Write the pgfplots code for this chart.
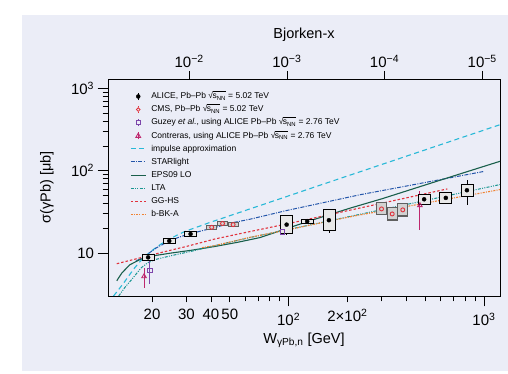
\documentclass[border=0pt]{standalone}
\usepackage{pgfplots}
\pgfplotsset{compat=1.18}
\usepackage{pgfplotstable}
\usepackage{fontspec}
\setmainfont{Liberation Sans}

\definecolor{panel}{RGB}{235,237,247}
\definecolor{cIA}{RGB}{40,185,215}
\definecolor{cSL}{RGB}{35,85,170}
\definecolor{cEPS}{RGB}{25,95,75}
\definecolor{cLTA}{RGB}{25,150,145}
\definecolor{cGG}{RGB}{225,50,60}
\definecolor{cBK}{RGB}{240,130,50}
\definecolor{cGuz}{RGB}{125,70,170}
\definecolor{cCon}{RGB}{190,40,110}

\def\ydec{82.3}
\pgfdeclareplotmark{sysboxA}{\pgfpathrectangle{\pgfpoint{-6pt}{-\boxh}}{\pgfpoint{12pt}{2*\boxh}}\pgfusepathqfillstroke}
\pgfdeclareplotmark{sysboxC}{\pgfpathrectangle{\pgfpoint{-5pt}{-\boxh}}{\pgfpoint{10pt}{2*\boxh}}\pgfusepathqfillstroke}

\pgfplotstableread{
W s stat sys
19.1 8.84 0.3 0.65
24.5 14.0 0.4 1.1
31.5 17.0 0.5 1.4
97.7 22.1 5.5 6.3
124.5 24.2 0.8 1.6
160.8 25.0 7.5 8.6
494 44.9 2.5 6.5
638 46.7 2.5 7.5
818 57.8 20 11
}\alice

\pgfplotstableread{
W s stat sys
40.4 20.5 0.5 1.2
45.9 22.8 0.5 1.3
52.0 22.1 0.5 1.3
299 34.3 1.0 6.3
339 29.8 1.0 5.5
384 33.4 1.0 6.3
}\cms

\pgfplotstableread{
W s e
19.5 6.14 1.9
92.8 18.0 1.2
}\guzey

\pgfplotstableread{
W s e
18.2 5.19 1.4
470 37.9 18.7
}\contreras

\newcommand{\snn}{√\kern-0.6pt\smash{$\overline{\vphantom{\mbox{X}}\mbox{s\textsubscript{NN}}}$}}

\begin{document}
\begin{tikzpicture}
\useasboundingbox (0pt,0pt) rectangle (508pt,374pt);
\fill[white] (0pt,0pt) rectangle (508pt,374pt);
\fill[panel] (22pt,3pt) rectangle (508pt,359pt);

% top axis (Bjorken-x)
\begin{axis}[
  at={(108pt,78pt)}, anchor=south west,
  scale only axis, width=392pt, height=217pt,
  xmode=log, x dir=reverse,
  xmin=6.58e-6, xmax=0.0678, ymin=0, ymax=1,
  axis x line*=top, hide y axis,
  axis line style={line width=0.8pt},
  tick align=outside,
  major tick length=8pt, minor tick length=4.5pt,
  every tick/.style={black, line width=0.7pt},
  xtick={1e-2,1e-3,1e-4,1e-5},
  xticklabels={10\textsuperscript{−2},10\textsuperscript{−3},10\textsuperscript{−4},10\textsuperscript{−5}},
  tick label style={font=\fontsize{15}{17}\selectfont},
  xlabel={Bjorken-x},
  xlabel style={at={(axis description cs:0.5,1)}, anchor=center, yshift=44pt},
  label style={font=\fontsize{14.5}{17}\selectfont},
]
\addplot[draw=none] coordinates {(1e-3,0.5)};
\end{axis}

\begin{axis}[
  at={(108pt,78pt)}, anchor=south west,
  scale only axis, width=392pt, height=217pt,
  xmode=log, ymode=log,
  xmin=11.9, xmax=1208, ymin=3, ymax=1300,
  axis line style={line width=0.8pt},
  xtick pos=bottom, ytick pos=left,
  tick align=outside,
  major tick length=10.5pt, minor tick length=5.5pt,
  every tick/.style={black, line width=0.7pt},
  xtick={100,1000},
  xticklabels={10\textsuperscript{2},10\textsuperscript{3}},
  extra x ticks={20,30,40,50,200},
  extra x tick labels={20,30,40,50,2×10\textsuperscript{2}},
  extra x tick style={major tick length=6.5pt},
  minor xtick={60,70,80,90,300,400,500,600,700,800,900},
  ytick={10,100,1000},
  yticklabels={10,10\textsuperscript{2},10\textsuperscript{3}},
  tick label style={font=\fontsize{15}{17}\selectfont},
  xticklabel style={yshift=-3pt},
  label style={font=\fontsize{14.5}{17}\selectfont},
  xlabel={W\textsubscript{γPb,n} [GeV]},
  xlabel style={at={(axis description cs:0.5,0)}, anchor=center, yshift=-44pt},
  ylabel={σ(γPb) [μb]},
  ylabel style={at={(axis description cs:-0.156,0.5)}, anchor=center},
  legend style={at={(0,1)}, anchor=north west, xshift=22pt, yshift=-13pt,
    draw=none, fill=none, inner sep=0pt, row sep=4.6pt,
    font=\fontsize{8.5}{10}\selectfont,
    nodes={inner sep=0pt, text height=6.5pt, text depth=2pt},
    /tikz/every odd column/.append style={column sep=5pt}},
  legend cell align=left,
  legend image code/.code={\draw[#1] (0pt,0pt) -- (15pt,0pt);},
]
% legend entries for data
\addlegendimage{legend image code/.code={\draw[black, line width=0.8pt] (7.5pt,-3.7pt) -- (7.5pt,3.7pt); \fill[black] (7.5pt,0pt) circle (2pt);}}
\addlegendentry{ALICE, Pb–Pb \snn{} = 5.02 TeV}
\addlegendimage{legend image code/.code={\draw[cGG, line width=0.8pt] (7.5pt,-3.7pt) -- (7.5pt,-2.2pt) (7.5pt,2.2pt) -- (7.5pt,3.7pt); \draw[cGG, line width=0.8pt] (7.5pt,0pt) circle (1.8pt);}}
\addlegendentry{CMS, Pb–Pb \snn{} = 5.02 TeV}
\addlegendimage{legend image code/.code={\draw[cGuz, line width=0.8pt] (7.5pt,-3.7pt) -- (7.5pt,-2.2pt) (7.5pt,2.2pt) -- (7.5pt,3.7pt); \draw[cGuz, line width=0.8pt] (5.3pt,-2.2pt) rectangle (9.7pt,2.2pt);}}
\addlegendentry{Guzey \textit{et al.}, using ALICE Pb–Pb \snn{} = 2.76 TeV}
\addlegendimage{legend image code/.code={\draw[cCon, line width=0.8pt] (7.5pt,-3.7pt) -- (7.5pt,3.7pt); \draw[cCon, line width=0.8pt] (5.1pt,-1.6pt) -- (9.9pt,-1.6pt) -- (7.5pt,2.6pt) -- cycle;}}
\addlegendentry{Contreras, using ALICE Pb–Pb \snn{} = 2.76 TeV}

% systematic boxes
\addplot[only marks, mark=sysboxA, mark options={fill=gray!18, draw=black, line width=0.7pt, solid},
  visualization depends on={\ydec*log10(1+\thisrow{sys}/\thisrow{s}) \as \boxh}, forget plot]
  table[x=W, y=s] {\alice};
\addplot[only marks, mark=sysboxC, mark options={fill=gray!35, draw=gray!75!black, line width=1.1pt, solid},
  visualization depends on={\ydec*log10(1+\thisrow{sys}/\thisrow{s}) \as \boxh}, forget plot]
  table[x=W, y=s] {\cms};

% models
\addplot[cIA, line width=1.1pt, dash pattern=on 5pt off 3.5pt] coordinates {
(12.7,3.0)(13.5,3.6)(14.5,4.5)(15.4,5.5)(16.3,6.6)(17.3,7.8)(18.4,9.1)(20.5,11.2)(22.3,12.9)(24.2,14.5)(26.8,16.4)(29.5,18.3)(40,23.7)(63.4,34.3)(100,49.4)(144.5,66.5)(300,119)(600,207)(1200,360)};
\addlegendentry{impulse approximation}
\addplot[cSL, line width=1pt, dash pattern=on 4pt off 1.3pt on 1pt off 1.3pt] coordinates {
(16.5,7.9)(17.5,8.6)(19,9.7)(21,11.5)(24.5,14.0)(28,15.8)(31.5,17.2)(40,19.8)(52,23.4)(63.4,25.7)(97.7,32.8)(150,40.8)(232,51)(400,65)(600,78)(991,97.5)};
\addlegendentry{STARlight}
\addplot[cEPS, line width=1.1pt] coordinates {
(13.2,4.6)(14,5.7)(15.4,7.2)(17.6,8.45)(20.7,9.3)(25.2,10.0)(31.9,10.8)(42,12.0)(55,13.5)(71.5,15.4)(97.7,19.8)(128.5,24.6)(206,35.0)(300,45.5)(500,67)(800,95.5)(1208,130)};
\addlegendentry{EPS09 LO}
\addplot[cLTA, line width=1pt, dash pattern=on 3pt off 1.3pt on 1pt off 1.3pt on 1pt off 1.3pt] coordinates {
(13.5,3.0)(14.5,3.8)(15.7,4.73)(17.6,6.6)(19,7.6)(20.7,8.3)(25.2,9.3)(31.9,10.5)(42,12.3)(63.4,15.4)(97,19)(206,27.8)(500,43.4)(1208,67.8)};
\addlegendentry{LTA}
\addplot[cGG, line width=1.1pt, dash pattern=on 2.5pt off 2pt] coordinates {
(13.2,7.4)(17,8.6)(23.3,10.4)(30,12.0)(42,14.8)(63.4,18.2)(97.7,22.5)(232,35.2)(649,60)};
\addlegendentry{GG-HS}
\addplot[cBK, line width=1.1pt, dash pattern=on 2pt off 1.2pt on 1pt off 1.2pt] coordinates {
(36,11.6)(42,12.3)(63.4,15.5)(97.7,19.0)(206,27.5)(232,29)(500,40.3)(1208,58.9)};
\addlegendentry{b-BK-A}

% data points
\addplot[only marks, mark=*, mark size=2pt, black, forget plot,
  error bars/.cd, y dir=both, y explicit, error mark=none, error bar style={line width=0.8pt, black}]
  table[x=W, y=s, y error=stat] {\alice};
\addplot[only marks, mark=o, mark size=2pt, cGG, mark options={line width=0.9pt}, forget plot,
  error bars/.cd, y dir=both, y explicit, error mark=none, error bar style={line width=0.8pt, cGG}]
  table[x=W, y=s, y error=stat] {\cms};
\addplot[only marks, mark=square, mark size=2.3pt, cGuz, mark options={line width=0.9pt}, forget plot,
  error bars/.cd, y dir=both, y explicit, error mark=none, error bar style={line width=0.9pt, cGuz}]
  table[x=W, y=s, y error=e] {\guzey};
\addplot[only marks, mark=triangle, mark size=2.6pt, cCon, mark options={line width=0.9pt}, forget plot,
  error bars/.cd, y dir=both, y explicit, error mark=none, error bar style={line width=0.9pt, cCon}]
  table[x=W, y=s, y error=e] {\contreras};
\end{axis}
\end{tikzpicture}
\end{document}
